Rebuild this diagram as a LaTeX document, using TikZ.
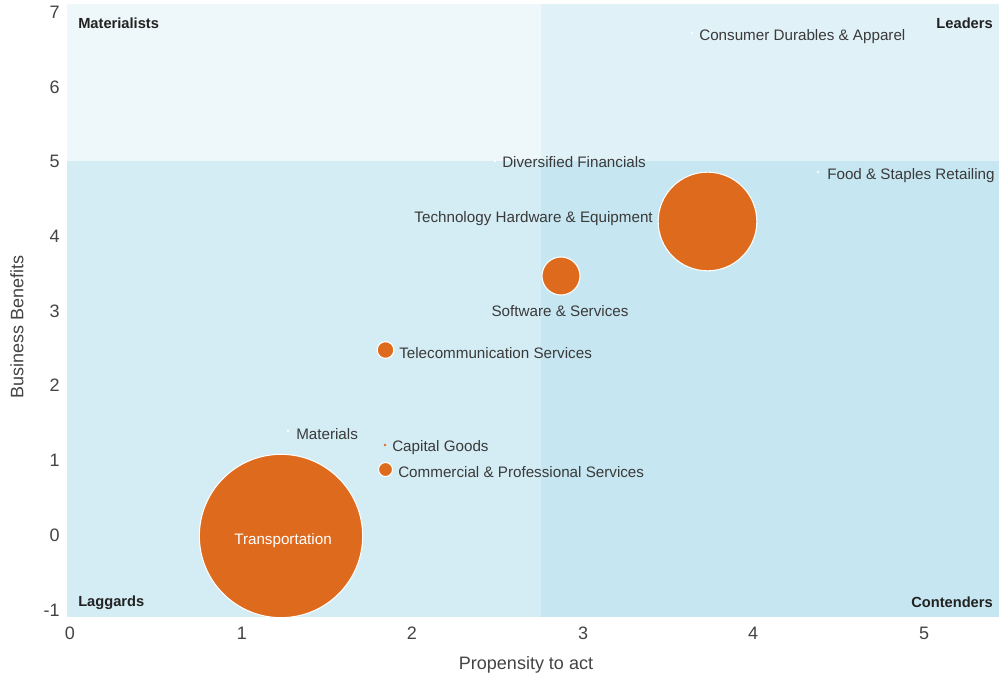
\documentclass[tikz,border=0pt]{standalone}
\usepackage{fontspec}
\setmainfont{Liberation Sans}
\definecolor{qTL}{HTML}{EEF7FA}
\definecolor{qTR}{HTML}{E0F1F7}
\definecolor{qBL}{HTML}{D4ECF4}
\definecolor{qBR}{HTML}{C6E6F1}
\definecolor{bub}{HTML}{DE6A1E}
\definecolor{txt}{HTML}{3A3A3A}
\definecolor{qtxt}{HTML}{222222}
\definecolor{tickc}{HTML}{444444}
\begin{document}
\begin{tikzpicture}[x=0.75pt,y=-0.75pt,
  bubble/.style={circle,fill=bub,draw=white,line width=0.8pt,inner sep=0pt},
  wdot/.style={circle,fill=white,inner sep=0pt,minimum size=2.2pt},
  lab/.style={font=\fontsize{11.4}{13}\selectfont,text=txt,inner sep=0pt,yshift=-1.5pt},
  quad/.style={font=\bfseries\fontsize{11}{13}\selectfont,text=qtxt,inner sep=0pt,yshift=-1pt},
  tick/.style={font=\fontsize{13.5}{16}\selectfont,text=tickc,inner sep=0pt},
  axtitle/.style={font=\fontsize{13.5}{16}\selectfont,text=tickc,inner sep=0pt}]
\useasboundingbox (0,0) rectangle (999,677);
\fill[white] (0,0) rectangle (999,677);
% quadrants
\fill[qTL] (67,4) rectangle (541,161);
\fill[qTR] (541,4) rectangle (999,161);
\fill[qBL] (67,161) rectangle (541,617);
\fill[qBR] (541,161) rectangle (999,617);
% quadrant labels
\node[quad,anchor=west] (materialists) at (78,22) {Materialists};
\node[quad,anchor=east] (leaders) at (993,22) {Leaders};
\node[quad,anchor=west] (laggards) at (78,601) {Laggards};
\node[quad,anchor=east] (contenders) at (993,601) {Contenders};
% y tick labels
\node[tick,anchor=east] (y7) at (60,12) {7};
\node[tick,anchor=east] (y6) at (60,87) {6};
\node[tick,anchor=east] (y5) at (60,161) {5};
\node[tick,anchor=east] (y4) at (60,236) {4};
\node[tick,anchor=east] (y3) at (60,311) {3};
\node[tick,anchor=east] (y2) at (60,385) {2};
\node[tick,anchor=east] (y1) at (60,460) {1};
\node[tick,anchor=east] (y0) at (60,535) {0};
\node[tick,anchor=east] (ym1) at (60,610) {-1};
% x tick labels
\node[tick] (x0) at (70,633) {0};
\node[tick] (x1) at (242,633) {1};
\node[tick] (x2) at (412,633) {2};
\node[tick] (x3) at (583,633) {3};
\node[tick] (x4) at (753,633) {4};
\node[tick] (x5) at (924,633) {5};
% axis titles
\node[axtitle] (xtitle) at (526,665) {Propensity to act};
\node[axtitle,rotate=90] (ytitle) at (17,327) {Business Benefits};
% bubbles
\begin{scope}
\clip (67,4) rectangle (999,617);
\node[bubble,minimum size=122.5pt] (transport) at (281,536) {};
\end{scope}
\node[font=\fontsize{11.4}{13}\selectfont,text=white,inner sep=0pt,yshift=-1.5pt] (transportlab) at (283,539) {Transportation};
\node[bubble,minimum size=74pt] (tech) at (707.5,221.5) {};
\node[bubble,minimum size=28.5pt] (software) at (561,276) {};
\node[bubble,minimum size=12.5pt] (telecom) at (385.5,350) {};
\node[bubble,minimum size=10.5pt] (commercial) at (385.5,469.5) {};
\node[circle,fill=bub,inner sep=0pt,minimum size=2.2pt] (capital) at (385,445) {};
\node[wdot] (materials) at (288,431) {};
\node[wdot] (divfin) at (495,161) {};
\node[wdot] (consumer) at (692,33) {};
\node[wdot] (food) at (818,172) {};
% labels
\node[lab,anchor=west] (consumerlab) at (699,35) {Consumer Durables \& Apparel};
\node[lab,anchor=west] (divfinlab) at (502,160) {Diversified Financials};
\node[lab,anchor=west] (foodlab) at (827,174) {Food \& Staples Retailing};
\node[lab,anchor=east] (techlab) at (653,217) {Technology Hardware \& Equipment};
\node[lab] (softwarelab) at (560,309) {Software \& Services};
\node[lab,anchor=west] (telecomlab) at (399,351) {Telecommunication Services};
\node[lab,anchor=west] (materialslab) at (296,432) {Materials};
\node[lab,anchor=west] (capitallab) at (392,446) {Capital Goods};
\node[lab,anchor=west] (commerciallab) at (398,470) {Commercial \& Professional Services};
\end{tikzpicture}
\end{document}
